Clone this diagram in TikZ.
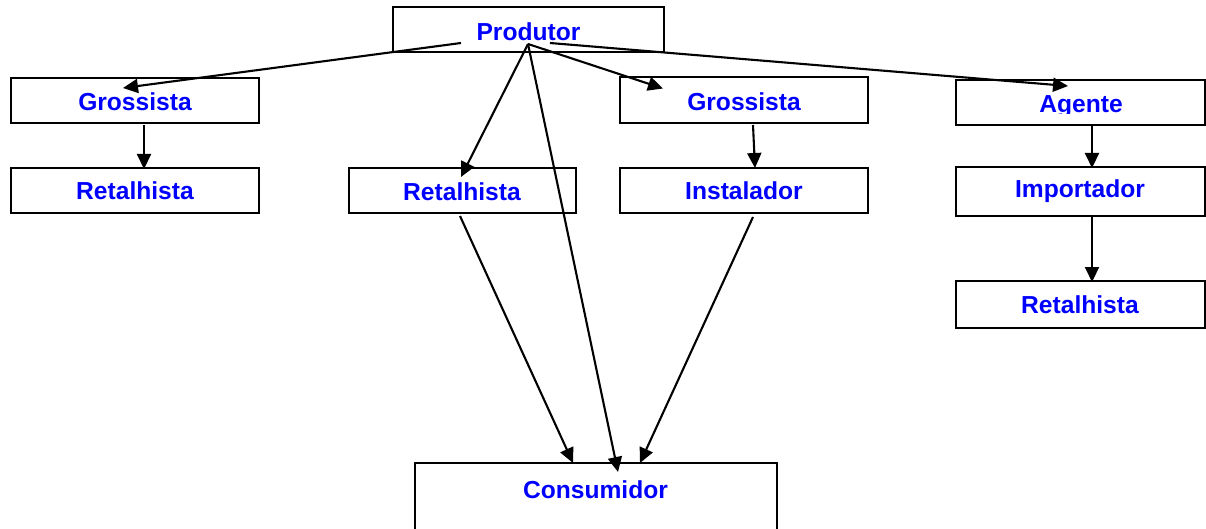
\documentclass[tikz,border=0pt]{standalone}
\usepackage{fontspec}
\setmainfont{Liberation Sans}
\usetikzlibrary{arrows.meta}
\begin{document}
\begin{tikzpicture}[x=1pt,y=-1pt,
  box/.style={draw, rectangle, line width=2.2pt, inner sep=0pt},
  lbl/.style={text=blue, font=\fontsize{24.6}{29}\selectfont\bfseries, inner sep=0pt, anchor=base},
  arr/.style={line width=2.1pt, -{Triangle[length=15pt,width=14pt]}}]
\useasboundingbox (0,0) rectangle (1206,529);
\clip (0,0) rectangle (1206,529);
\fill[white] (0,0) rectangle (1206,529);

% boxes
\node[box, minimum width=271pt, minimum height=45pt] (prod) at (528.5,29.5) {};
\node[box, minimum width=248pt, minimum height=45pt] (grosL) at (135,100.5) {};
\node[box, minimum width=248pt, minimum height=45pt] (retL) at (135,190.5) {};
\node[box, minimum width=227pt, minimum height=45pt] (retM) at (462.5,190.5) {};
\node[box, minimum width=248pt, minimum height=46pt] (grosM) at (744,100) {};
\node[box, minimum width=248pt, minimum height=45pt] (inst) at (744,190.5) {};
\node[box, minimum width=249pt, minimum height=45pt] (agen) at (1080.5,102.5) {};
\node[box, minimum width=249pt, minimum height=49pt] (impo) at (1080.5,191.5) {};
\node[box, minimum width=249pt, minimum height=47pt] (retR) at (1080.5,304.5) {};
\node[box, minimum width=362pt, minimum height=90pt] (cons) at (596,508) {};

% labels
\node[lbl] (prodT) at (528.5,41) {Produtor};
\node[lbl] (grosLT) at (135,111) {Grossista};
\node[lbl] (retLT) at (135,200) {Retalhista};
\node[lbl] (retMT) at (462,200.5) {Retalhista};
\node[lbl] (grosMT) at (744,110.5) {Grossista};
\node[lbl] (instT) at (744,200) {Instalador};
\begin{scope}
  \clip (957,81) rectangle (1204,113.5);
  \node[lbl] (agenT) at (1081,113) {Agente};
\end{scope}
\node[lbl] (impoT) at (1080,198) {Importador};
\node[lbl] (retRT) at (1080,313) {Retalhista};
\node[lbl] (consT) at (595.5,498) {Consumidor};

% connector ends
\coordinate (pFan) at (528,44);
\coordinate (pLeft) at (461,43);
\coordinate (pRight) at (550,43);
\coordinate (tGrosL) at (123,88);
\coordinate (tGrosM) at (663,88.5);
\coordinate (tAgen) at (1068,86);
\coordinate (tRetM) at (461,177);
\coordinate (tCons1) at (573,463);
\coordinate (tCons2) at (618,472);
\coordinate (tCons3) at (640,463);
\coordinate (sRetM) at (460,216);
\coordinate (sInst) at (753,217);
\coordinate (sGrosL) at (144,125);
\coordinate (tRetL) at (144,169);
\coordinate (sGrosM) at (753,125);
\coordinate (tInst) at (755,168);
\coordinate (sAgen) at (1092,125);
\coordinate (tImpo) at (1092,168);
\coordinate (sImpo) at (1092,216);
\coordinate (tRetR) at (1092,282);

% connectors
\draw[arr] (pLeft) -- (tGrosL);
\draw[arr] (pRight) -- (tAgen);
\draw[arr] (pFan) -- (tGrosM);
\draw[arr] (pFan) -- (tRetM);
\draw[arr] (pFan) -- (tCons2);
\draw[arr] (sGrosL) -- (tRetL);
\draw[arr] (sGrosM) -- (tInst);
\draw[arr] (sAgen) -- (tImpo);
\draw[arr] (sImpo) -- (tRetR);
\draw[arr] (sRetM) -- (tCons1);
\draw[arr] (sInst) -- (tCons3);
\end{tikzpicture}
\end{document}
